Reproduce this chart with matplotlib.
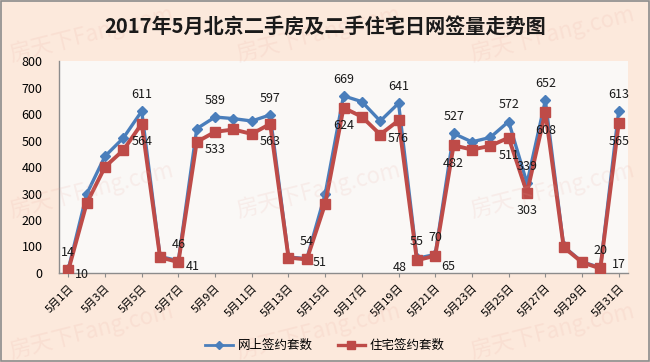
import matplotlib
matplotlib.use('Agg')
import matplotlib.pyplot as plt
from matplotlib.lines import Line2D
from matplotlib.patches import Rectangle

plt.rcParams['font.family'] = ['Noto Sans CJK SC', 'DejaVu Sans']

# 数据：2017年5月每日网签量
days = list(range(1, 32))
online = [14, 298, 441, 510, 611, 62, 46, 545, 589, 583, 574, 597, 60, 54, 298, 669,
          647, 574, 641, 55, 70, 527, 495, 512, 572, 339, 652, 100, 42, 20, 613]
housing = [10, 263, 401, 464, 564, 59, 41, 495, 533, 542, 525, 563, 58, 51, 261, 624,
           590, 523, 576, 48, 65, 482, 466, 480, 511, 303, 608, 97, 40, 17, 565]
labeled_days = [1, 5, 7, 9, 12, 14, 16, 19, 20, 21, 22, 25, 26, 27, 30, 31]
tick_days = list(range(1, 32, 2))
tick_labels = [f'5月{d}日' for d in tick_days]

title = '2017年5月北京二手房及二手住宅日网签量走势图'
names = ['网上签约套数', '住宅签约套数']

blue = '#4a7ebb'
red = '#be4b48'

# 红色标签的偏移（点），默认在下方
red_offsets = {1: (10, -3), 7: (10, -3), 14: (9, -2), 20: (-12, -5),
               21: (9, -8), 30: (13, 3)}

fig = plt.figure(figsize=(6.5, 3.62), dpi=100)
fig.patch.set_facecolor('#fce9dc')
fig.patches.append(Rectangle((0.001, 0.002), 0.997, 0.995, transform=fig.transFigure,
                             fill=False, edgecolor='#8c8c8c', linewidth=1.2))

# 水印
for wx in (0.14, 0.49, 0.85):
    for wy in (0.905, 0.475, 0.085):
        fig.text(wx, wy, '房天下Fang.com', fontsize=16, color='#e9a49a', alpha=0.14,
                 rotation=14, ha='center', va='center', zorder=0)

ax = fig.add_axes([0.091, 0.246, 0.875, 0.585])
ax.set_facecolor('#fafafa')
ax.patch.set_alpha(0.9)

ax.plot(days, online, color=blue, linewidth=2.4, marker='D', markersize=5.5,
        markeredgecolor=blue, zorder=3)
ax.plot(days, housing, color=red, linewidth=2.8, marker='s', markersize=7.5,
        markeredgecolor=red, zorder=4)

for d in labeled_days:
    ax.annotate(str(online[d - 1]), (d, online[d - 1]), xytext=(0, 12),
                textcoords='offset points', ha='center', va='center',
                fontsize=9, color='#1a1a1a', zorder=6)
    dx, dy = red_offsets.get(d, (0, -13))
    ax.annotate(str(housing[d - 1]), (d, housing[d - 1]), xytext=(dx, dy),
                textcoords='offset points', ha='center', va='center',
                fontsize=9, color='#1a1a1a', zorder=6)

ax.set_xlim(0.5, 31.5)
ax.set_ylim(0, 800)
ax.set_yticks(range(0, 801, 100))
ax.set_xticks(tick_days)
ax.set_xticklabels(tick_labels, rotation=45, ha='right', rotation_mode='anchor',
                   fontsize=8)
ax.tick_params(axis='y', labelsize=9, length=0, pad=12)
ax.tick_params(axis='x', length=3, color='#8c8c8c', pad=4)

for side in ('top', 'right'):
    ax.spines[side].set_visible(False)
for side in ('left', 'bottom'):
    ax.spines[side].set_color('#8c8c8c')
    ax.spines[side].set_linewidth(1)

fig.text(0.5, 0.925, title, ha='center', va='center', fontsize=14.5,
         fontweight='bold', color='#1a1a1a')

handles = [Line2D([], [], color=blue, linewidth=2, marker='D', markersize=4),
           Line2D([], [], color=red, linewidth=2.4, marker='s', markersize=5.5)]
fig.legend(handles, names, loc='center', bbox_to_anchor=(0.5, 0.045), ncol=2,
           frameon=False, fontsize=9, handlelength=2.2, columnspacing=2.0,
           handletextpad=0.4)

fig.savefig('out.png', dpi=100, facecolor=fig.get_facecolor())
